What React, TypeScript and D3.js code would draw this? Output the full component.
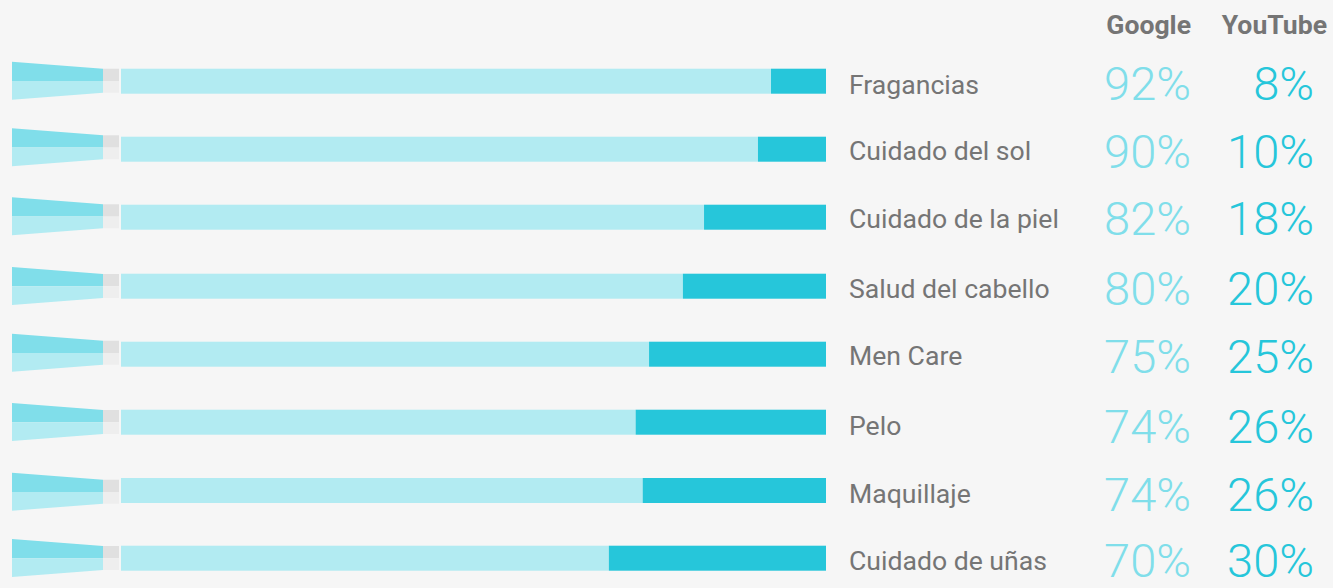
import React from 'react';
import * as d3 from 'd3';

const categories = ['Fragancias', 'Cuidado del sol', 'Cuidado de la piel', 'Salud del cabello', 'Men Care', 'Pelo', 'Maquillaje', 'Cuidado de uñas'];
const googleLabels = [92, 90, 82, 80, 75, 74, 74, 70];
const youtubeLabels = [8, 10, 18, 20, 25, 26, 26, 30];
// bar split as drawn in the picture, it doesn't follow the labels exactly
const googleShare = [92.2, 90.35, 82.7, 79.7, 74.9, 73, 74, 69.2];

// rows in the original are not evenly spaced
const barTops = [68.7, 136.7, 204.7, 273.7, 341.7, 409.7, 478, 545.7];
const wedgeTops = [61.7, 128.3, 197.3, 267, 333.7, 403, 472.7, 539];
const labelBase = [94, 160, 228, 298, 365, 435, 503, 570];
const pctBase = [100, 168, 235, 305, 373, 443, 511, 577];

const W = 1333;
const H = 588;
const font = 'Roboto, sans-serif';

export default function App() {
  const x = d3.scaleLinear().domain([0, 100]).range([121, 826]);
  const pct = d3.format('d');

  const wedge = d3.line<[number, number]>();

  return (
    // opacity just under 1 keeps the text on grayscale antialiasing like the original
    <svg width={W} height={H} style={{ position: 'absolute', left: 0, top: 0, background: '#f6f6f6', opacity: 0.999 }}>
      <text x={1191} y={34} textAnchor="end" fontFamily={font} fontWeight={700} fontSize={26.6} fill="#757575">Google</text>
      <text x={1327} y={34} textAnchor="end" fontFamily={font} fontWeight={700} fontSize={26.6} fill="#757575">YouTube</text>
      {categories.map((c, i) => {
        const by = barTops[i];
        const wy = wedgeTops[i];
        return (
          <g key={c}>
            <path d={wedge([[12, wy], [103, wy + 7], [103, wy + 19.3], [12, wy + 19.3]]) + 'Z'} fill="#80deea" />
            <path d={wedge([[12, wy + 19.3], [103, wy + 19.3], [103, wy + 31], [12, wy + 38]]) + 'Z'} fill="#b2ebf2" />
            <rect x={103} y={wy + 7} width={16} height={12.3} fill="#e0e0e0" />
            <rect x={103} y={wy + 19.3} width={16} height={11.7} fill="#eeeeee" />
            <rect x={x(0)} y={by} width={x(googleShare[i]) - x(0)} height={25} fill="#b2ebf2" />
            <rect x={x(googleShare[i])} y={by} width={x(100) - x(googleShare[i])} height={25} fill="#26c6da" />
            <text x={849} y={labelBase[i]} fontFamily={font} fontSize={26.6} fill="#757575">{c}</text>
            <text x={1191} y={pctBase[i]} textAnchor="end" fontFamily={font} fontWeight={300} fontSize={47} fill="#80deea">{pct(googleLabels[i])}%</text>
            <text x={1314} y={pctBase[i]} textAnchor="end" fontFamily={font} fontWeight={300} fontSize={47} fill="#26c6da">{pct(youtubeLabels[i])}%</text>
          </g>
        );
      })}
    </svg>
  );
}
